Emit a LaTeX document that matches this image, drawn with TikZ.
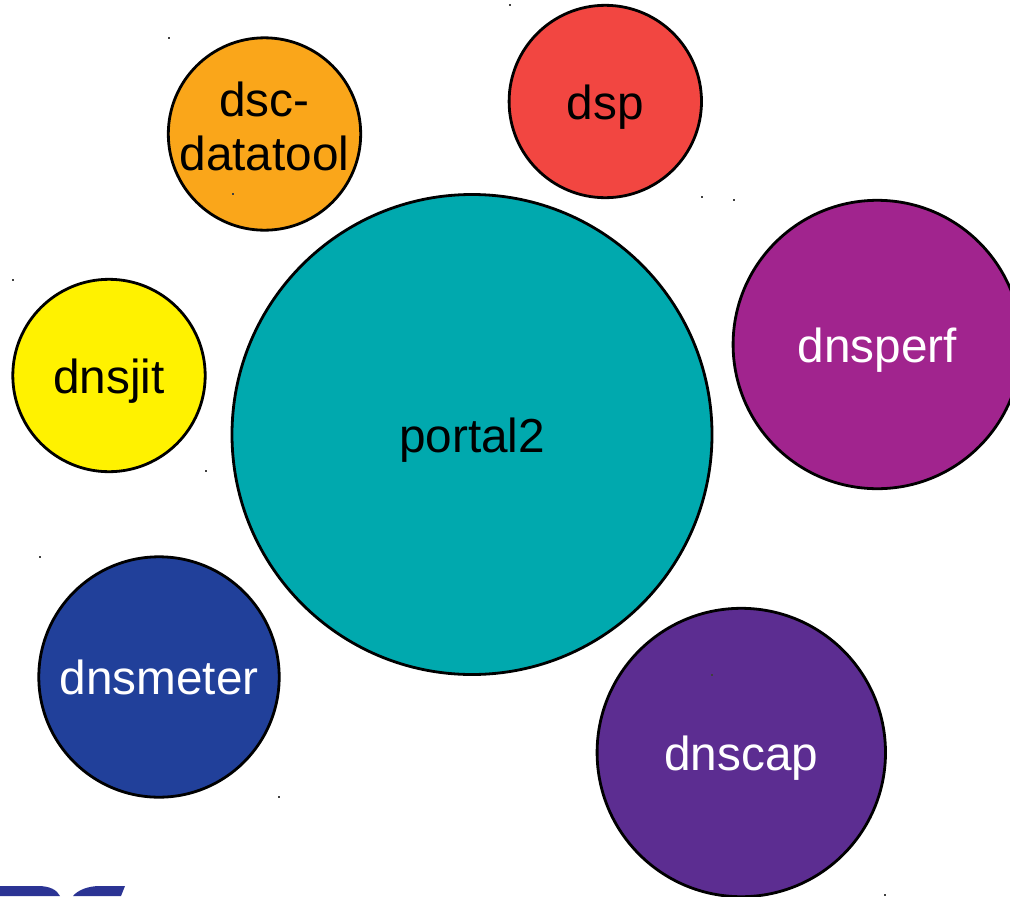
\documentclass[tikz,border=0pt]{standalone}
\usepackage{fontspec}
\setmainfont{Liberation Sans}
\definecolor{cteal}{HTML}{00A9AE}
\definecolor{corange}{HTML}{FAA61A}
\definecolor{cred}{HTML}{F24641}
\definecolor{cmagenta}{HTML}{A1248E}
\definecolor{cyellow}{HTML}{FFF200}
\definecolor{cblue}{HTML}{21409A}
\definecolor{cpurple}{HTML}{5C2D91}
\definecolor{clogo}{HTML}{2B3494}
\newcommand{\lowtext}[1]{\raisebox{-13.2pt}[0pt][0pt]{#1}}
\tikzset{
  bubble/.style={circle,draw=black,line width=2.1pt,inner sep=0pt,outer sep=0pt,
    font=\fontsize{35.8}{40}\selectfont},
  speck/.style={fill=black!75,inner sep=0pt,minimum width=0.8pt,minimum height=1.4pt,rectangle}
}
\begin{document}
\begin{tikzpicture}[x=0.75pt,y=-0.75pt]
\useasboundingbox (0,0) rectangle (1010,896);
\clip (0,0) rectangle (1010,896);
\node[bubble,fill=cteal,minimum size=360pt] (portal) at (472,434.5) {\lowtext{portal2}};
\node[bubble,fill=corange,minimum size=144.3pt] (datatool) at (264.5,134) {\raisebox{-27pt}[0pt][0pt]{\begin{tabular}[b]{@{}c@{}}dsc-\\datatool\end{tabular}}};
\node[bubble,fill=cred,minimum size=144.3pt] (dsp) at (605.3,101.5) {\lowtext{dsp}};
\node[bubble,fill=cmagenta,text=white,minimum size=216.3pt] (dnsperf) at (877.3,344.5) {\lowtext{dnsperf}};
\node[bubble,fill=cyellow,minimum size=144.3pt] (dnsjit) at (109,375.5) {\lowtext{dnsjit}};
\node[bubble,fill=cblue,text=white,minimum size=180.3pt] (dnsmeter) at (159,677) {\lowtext{dnsmeter}};
\node[bubble,fill=cpurple,text=white,minimum size=216.3pt] (dnscap) at (741.3,752.5) {\lowtext{dnscap}};
\foreach \n/\p in {a/{169,38},b/{510,5},c/{702,197},d/{734,200},e/{13,280},f/{206,471},g/{40,557},h/{279,797},i/{712,675},j/{233,194},k/{885,895}}
  \node[speck] (s\n) at (\p) {};
\fill[clogo] (0,886) -- (38,886) .. controls (50,886) and (57,890) .. (60,896) -- (0,896) -- cycle;
\fill[clogo] (73,896) .. controls (78,890) and (88,886) .. (100,886) -- (125,886) -- (121,896) -- cycle;
\end{tikzpicture}
\end{document}
